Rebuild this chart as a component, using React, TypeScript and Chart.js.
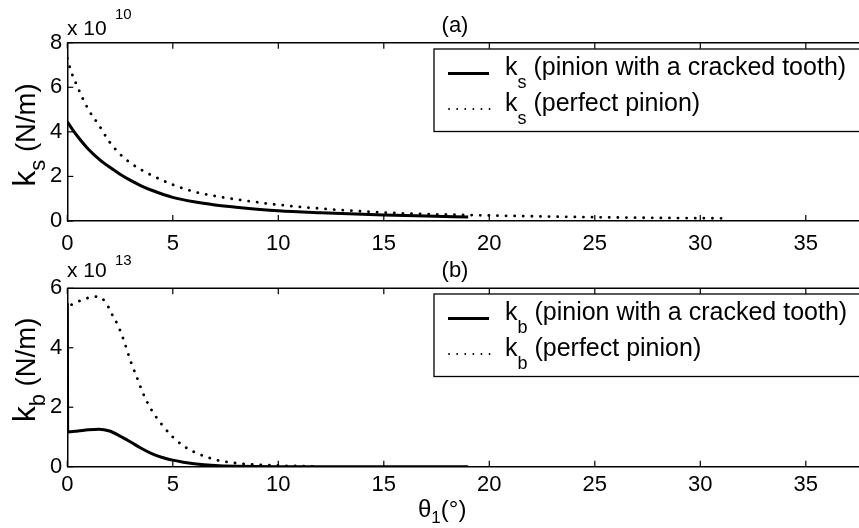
import React, { useEffect, useRef } from "react";
import { Chart, registerables } from "chart.js";

Chart.register(...registerables);

// ---------- data ----------
const xTicks = [0, 5, 10, 15, 20, 25, 30, 35];
const ksTicks = [0, 2, 4, 6, 8];
const kbTicks = [0, 2, 4, 6];

// k_s, units of 1e10 N/m
const ksCrackedX = [0, 0.25, 0.5, 1, 1.5, 2, 2.5, 3, 3.5, 4, 5, 6, 7, 8, 10, 12, 15, 17, 19];
const ksCrackedY = [4.45, 4.1, 3.78, 3.22, 2.78, 2.42, 2.1, 1.82, 1.58, 1.38, 1.06, 0.86, 0.72, 0.62, 0.46, 0.37, 0.27, 0.22, 0.18];
const ksPerfectX = [0, 0.15, 0.4, 1, 1.5, 2, 2.5, 3, 3.5, 4, 5, 6, 7, 8, 10, 12, 15, 18, 21, 25, 28, 31];
const ksPerfectY = [7.3, 6.8, 6.2, 5.0, 4.3, 3.55, 3.0, 2.6, 2.3, 2.05, 1.63, 1.32, 1.12, 0.97, 0.73, 0.56, 0.38, 0.29, 0.23, 0.17, 0.14, 0.12];

// k_b, units of 1e13 N/m
const kbCrackedX = [0, 0.02, 0.5, 1, 1.5, 2, 2.5, 3, 3.5, 4, 4.5, 5, 5.5, 6, 7, 8, 10, 14, 19];
const kbCrackedY = [5.5, 1.17, 1.2, 1.24, 1.26, 1.2, 1.03, 0.83, 0.62, 0.44, 0.31, 0.22, 0.15, 0.1, 0.04, 0.015, 0, 0, 0];
const kbPerfectX = [0.2, 0.5, 1, 1.4, 1.8, 2.1, 2.4, 2.7, 3, 3.3, 3.6, 4, 4.5, 5, 5.5, 6, 7, 8, 9, 10, 11, 12];
const kbPerfectY = [5.45, 5.55, 5.68, 5.72, 5.55, 5.15, 4.75, 4.2, 3.55, 3.0, 2.45, 1.9, 1.4, 1.0, 0.7, 0.5, 0.24, 0.12, 0.07, 0.04, 0.02, 0.01];

const crackedLabel = " (pinion with a cracked tooth)";
const perfectLabel = " (perfect pinion)";

// ---------- layout ----------
const W = 880;
const H = 528;
const X_MAX = 38;
const LEFT = 67.3;
const PX_PER_UNIT = 21.1;
const X_AXIS_H = 40;
const FONT = '"Liberation Sans", Arial, Helvetica, sans-serif';

type Spec = {
  crackedX: number[];
  crackedY: number[];
  perfectX: number[];
  perfectY: number[];
  yTicks: number[];
  yMax: number;
  top: number;
  bottom: number;
  xPad: number;
  sym: string;
  exponent: string;
  expBaseline: number;
  supBaseline: number;
  tag: string;
  tagBaseline: number;
  legendTop: number;
  yLabelCenter: number;
  xLabel: boolean;
};

function drawParts(ctx: CanvasRenderingContext2D, x: number, y: number, parts: Array<[string, number, number]>) {
  let cx = x;
  for (const [t, size, dy] of parts) {
    ctx.font = `${size}px ${FONT}`;
    ctx.fillText(t, cx, y + dy);
    cx += ctx.measureText(t).width;
  }
  return cx;
}

function partsWidth(ctx: CanvasRenderingContext2D, parts: Array<[string, number, number]>) {
  let w = 0;
  for (const [t, size] of parts) {
    ctx.font = `${size}px ${FONT}`;
    w += ctx.measureText(t).width;
  }
  return w;
}

function decor(spec: Spec) {
  return {
    id: "decor",
    afterDraw(chart: any) {
      const ctx: CanvasRenderingContext2D = chart.ctx;
      const a = chart.chartArea;
      const xs = chart.scales.x;
      const ys = chart.scales.y;
      ctx.save();
      ctx.strokeStyle = "#000";
      ctx.fillStyle = "#000";
      // top border
      ctx.lineWidth = 1.5;
      ctx.beginPath();
      ctx.moveTo(a.left, a.top);
      ctx.lineTo(a.right, a.top);
      ctx.stroke();
      // inward ticks
      ctx.lineWidth = 1.2;
      const tl = 6;
      for (const v of xTicks) {
        const px = xs.getPixelForValue(v);
        ctx.beginPath();
        ctx.moveTo(px, a.bottom);
        ctx.lineTo(px, a.bottom - tl);
        ctx.moveTo(px, a.top);
        ctx.lineTo(px, a.top + tl);
        ctx.stroke();
      }
      for (const v of spec.yTicks) {
        const py = ys.getPixelForValue(v);
        ctx.beginPath();
        ctx.moveTo(a.left, py);
        ctx.lineTo(a.left + tl, py);
        ctx.stroke();
      }
      ctx.textAlign = "left";
      ctx.textBaseline = "alphabetic";
      // exponent
      ctx.font = `21px ${FONT}`;
      ctx.fillText("x 10", 67, spec.expBaseline);
      ctx.font = `15px ${FONT}`;
      ctx.fillText(spec.exponent, 115, spec.supBaseline);
      // panel tag
      ctx.font = `22px ${FONT}`;
      ctx.textAlign = "center";
      ctx.fillText(spec.tag, 455, spec.tagBaseline);
      ctx.textAlign = "left";
      // y label (rotated)
      const yParts: Array<[string, number, number]> = [
        ["k", 32, 0],
        [spec.sym, 22, 10],
        [" (N/m)", 27.5, 0],
      ];
      const yw = partsWidth(ctx, yParts);
      ctx.save();
      ctx.translate(35, spec.yLabelCenter);
      ctx.rotate(-Math.PI / 2);
      drawParts(ctx, -yw / 2, 0, yParts);
      ctx.restore();
      // legend
      const lt = spec.legendTop;
      ctx.fillStyle = "#fff";
      ctx.fillRect(434, lt, 480, 82.5);
      ctx.strokeStyle = "#000";
      ctx.lineWidth = 1.3;
      ctx.strokeRect(434, lt, 480, 82.5);
      ctx.fillStyle = "#000";
      // row 1
      ctx.lineWidth = 3;
      ctx.setLineDash([]);
      ctx.beginPath();
      ctx.moveTo(448, lt + 24.5);
      ctx.lineTo(489, lt + 24.5);
      ctx.stroke();
      drawParts(ctx, 505, lt + 26, [
        ["k", 25, 0],
        [spec.sym, 18, 13],
        [crackedLabel, 25, 0],
      ]);
      // row 2
      ctx.lineWidth = 1.8;
      ctx.lineCap = "round";
      ctx.setLineDash([0.1, 8]);
      ctx.beginPath();
      ctx.moveTo(449, lt + 60);
      ctx.lineTo(490, lt + 60);
      ctx.stroke();
      ctx.setLineDash([]);
      ctx.lineCap = "butt";
      drawParts(ctx, 505, lt + 61.5, [
        ["k", 25, 0],
        [spec.sym, 18, 13],
        [perfectLabel, 25, 0],
      ]);
      // x label
      if (spec.xLabel) {
        drawParts(ctx, 418, 517, [
          ["\u03B8", 24, 0],
          ["1", 17, 6],
          ["(\u00B0)", 24, 0],
        ]);
      }
      ctx.restore();
    },
  };
}

function makeChart(canvas: HTMLCanvasElement, spec: Spec) {
  const right = LEFT + PX_PER_UNIT * X_MAX;
  const tickFont = { family: FONT, size: 22 };
  return new Chart(canvas, {
    type: "line",
    data: {
      datasets: [
        {
          data: spec.crackedX.map((x, i) => ({ x, y: spec.crackedY[i] })),
          borderColor: "#000",
          borderWidth: 3,
          pointRadius: 0,
          cubicInterpolationMode: "monotone",
          fill: false,
        },
        {
          data: spec.perfectX.map((x, i) => ({ x, y: spec.perfectY[i] })),
          borderColor: "#000",
          borderWidth: 2.8,
          borderDash: [0.1, 8.5],
          borderCapStyle: "round",
          pointRadius: 0,
          cubicInterpolationMode: "monotone",
          fill: false,
        },
      ],
    },
    options: {
      animation: false,
      responsive: false,
      devicePixelRatio: 1,
      events: [],
      layout: {
        padding: {
          left: LEFT - 67,
          top: spec.top,
          right: W - right,
          bottom: H - spec.bottom - X_AXIS_H,
        },
      },
      plugins: { legend: { display: false }, tooltip: { enabled: false } },
      scales: {
        x: {
          type: "linear",
          min: 0,
          max: X_MAX,
          afterBuildTicks: (s: any) => {
            s.ticks = xTicks.map((v) => ({ value: v }));
          },
          afterFit: (s: any) => {
            s.height = X_AXIS_H;
          },
          grid: { display: false, drawTicks: false },
          border: { display: true, color: "#000", width: 1.5 },
          ticks: {
            color: "#000",
            font: tickFont,
            padding: spec.xPad,
            autoSkip: false,
            maxRotation: 0,
            minRotation: 0,
          },
        },
        y: {
          type: "linear",
          min: 0,
          max: spec.yMax,
          afterBuildTicks: (s: any) => {
            s.ticks = spec.yTicks.map((v) => ({ value: v }));
          },
          afterFit: (s: any) => {
            s.width = 67;
          },
          grid: { display: false, drawTicks: false },
          border: { display: true, color: "#000", width: 1.5 },
          ticks: { color: "#000", font: tickFont, padding: 5, autoSkip: false },
        },
      },
    } as any,
    plugins: [decor(spec)],
  } as any);
}

const topSpec: Spec = {
  crackedX: ksCrackedX,
  crackedY: ksCrackedY,
  perfectX: ksPerfectX,
  perfectY: ksPerfectY,
  yTicks: ksTicks,
  yMax: 8,
  top: 42.7,
  bottom: 221,
  xPad: 10,
  sym: "s",
  exponent: "10",
  expBaseline: 35,
  supBaseline: 18.5,
  tag: "(a)",
  tagBaseline: 32,
  legendTop: 49,
  yLabelCenter: 135,
  xLabel: false,
};

const bottomSpec: Spec = {
  crackedX: kbCrackedX,
  crackedY: kbCrackedY,
  perfectX: kbPerfectX,
  perfectY: kbPerfectY,
  yTicks: kbTicks,
  yMax: 6,
  top: 288.3,
  bottom: 466.7,
  xPad: 5,
  sym: "b",
  exponent: "13",
  expBaseline: 276.7,
  supBaseline: 265,
  tag: "(b)",
  tagBaseline: 277,
  legendTop: 294,
  yLabelCenter: 370,
  xLabel: true,
};

export default function App() {
  const c1 = useRef<HTMLCanvasElement>(null);
  const c2 = useRef<HTMLCanvasElement>(null);
  useEffect(() => {
    document.body.style.margin = "0";
    document.body.style.background = "#fff";
    const a = makeChart(c1.current!, topSpec);
    const b = makeChart(c2.current!, bottomSpec);
    return () => {
      a.destroy();
      b.destroy();
    };
  }, []);
  const cs: React.CSSProperties = { position: "absolute", left: 0, top: 0, width: W, height: H };
  return (
    <div style={{ position: "relative", width: 859, height: 528, overflow: "hidden", background: "#fff" }}>
      <canvas ref={c1} width={W} height={H} style={cs} />
      <canvas ref={c2} width={W} height={H} style={cs} />
    </div>
  );
}
